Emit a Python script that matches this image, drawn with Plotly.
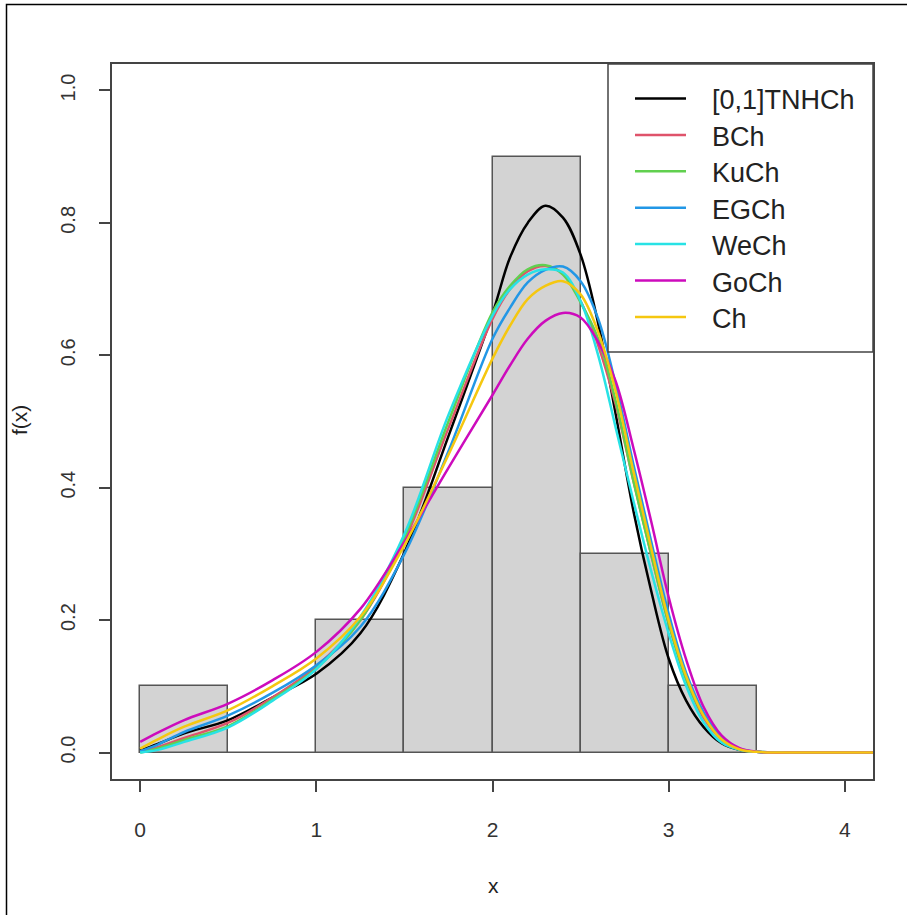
import plotly.graph_objects as go

# ---------------- data ----------------
bin_centers = [0.25, 0.75, 1.25, 1.75, 2.25, 2.75, 3.25]
bin_density = [0.1, 0.0, 0.2, 0.4, 0.9, 0.3, 0.1]
bin_width = 0.5

x_grid = [0, 0.1, 0.25, 0.5, 0.75, 1.0, 1.25, 1.5, 1.75, 2.0, 2.1, 2.2, 2.3, 2.4,
          2.5, 2.6, 2.7, 2.8, 2.9, 3.0, 3.1, 3.2, 3.3, 3.4, 3.5, 3.75, 4.0, 4.2]

f_TNHCh = [0.003, 0.013, 0.029, 0.049, 0.083, 0.119, 0.180, 0.302, 0.478, 0.663, 0.748, 0.800, 0.826, 0.808,
           0.752, 0.648, 0.510, 0.365, 0.245, 0.142, 0.078, 0.038, 0.014, 0.004, 0.001, 0.0, 0.0, 0.0]
f_BCh = [0.001, 0.008, 0.022, 0.045, 0.083, 0.130, 0.200, 0.320, 0.490, 0.655, 0.700, 0.727, 0.735, 0.723,
         0.682, 0.615, 0.525, 0.410, 0.300, 0.195, 0.110, 0.052, 0.020, 0.005, 0.001, 0.0, 0.0, 0.0]
f_KuCh = [0.0, 0.006, 0.019, 0.040, 0.080, 0.127, 0.200, 0.325, 0.500, 0.665, 0.705, 0.730, 0.736, 0.722,
          0.680, 0.625, 0.530, 0.410, 0.300, 0.195, 0.110, 0.055, 0.020, 0.005, 0.001, 0.0, 0.0, 0.0]
f_EGCh = [0.002, 0.012, 0.031, 0.056, 0.090, 0.132, 0.190, 0.300, 0.455, 0.625, 0.672, 0.710, 0.729, 0.734,
          0.712, 0.655, 0.555, 0.435, 0.320, 0.210, 0.120, 0.060, 0.022, 0.006, 0.001, 0.0, 0.0, 0.0]
f_WeCh = [0.0, 0.004, 0.016, 0.038, 0.078, 0.126, 0.205, 0.330, 0.510, 0.660, 0.700, 0.722, 0.730, 0.725,
          0.682, 0.600, 0.490, 0.380, 0.275, 0.180, 0.100, 0.045, 0.015, 0.004, 0.001, 0.0, 0.0, 0.0]
f_GoCh = [0.016, 0.030, 0.049, 0.074, 0.109, 0.152, 0.217, 0.318, 0.430, 0.540, 0.585, 0.625, 0.652, 0.664,
          0.657, 0.620, 0.560, 0.460, 0.350, 0.235, 0.140, 0.068, 0.026, 0.007, 0.001, 0.0, 0.0, 0.0]
f_Ch = [0.006, 0.020, 0.039, 0.064, 0.100, 0.142, 0.205, 0.313, 0.450, 0.595, 0.645, 0.685, 0.705, 0.712,
        0.692, 0.635, 0.545, 0.425, 0.310, 0.200, 0.115, 0.055, 0.020, 0.005, 0.001, 0.0, 0.0, 0.0]

series_names = ["[0,1]TNHCh", "BCh", "KuCh", "EGCh", "WeCh", "GoCh", "Ch"]
series_values = [f_TNHCh, f_BCh, f_KuCh, f_EGCh, f_WeCh, f_GoCh, f_Ch]
series_colors = ["#000000", "#DF536B", "#61D04F", "#2297E6", "#28E2E5", "#CD0BBC", "#F5C710"]

x_ticks = [0, 1, 2, 3, 4]
y_ticks = [0.0, 0.2, 0.4, 0.6, 0.8, 1.0]
y_tick_labels = ["0.0", "0.2", "0.4", "0.6", "0.8", "1.0"]

# ---------------- layout geometry ----------------
W, H = 907, 915
ML, MR, MT, MB = 112, 34, 64, 136
PW, PH = W - ML - MR, H - MT - MB


def px_x(px):
    return (px - ML) / PW


def px_y(py):
    return (H - MB - py) / PH


FONT = "Liberation Sans, Arial, sans-serif"

fig = go.Figure()

fig.add_trace(go.Bar(
    x=bin_centers, y=bin_density, width=bin_width,
    marker=dict(color="#D3D3D3", line=dict(color="#555555", width=1.5)),
    showlegend=False, hoverinfo="x+y",
))

for name, vals, col in zip(series_names, series_values, series_colors):
    fig.add_trace(go.Scatter(
        x=x_grid, y=vals, mode="lines", name=name,
        line=dict(color=col, width=2.5, shape="spline", smoothing=1.0),
        showlegend=False,
    ))

shapes = []
annotations = []

# outer image frame (left and top edges visible)
shapes.append(dict(type="rect", xref="paper", yref="paper",
                   x0=px_x(6.5), x1=px_x(920), y0=px_y(930), y1=px_y(4.5),
                   line=dict(color="#000000", width=1.5), layer="below"))

# legend box
shapes.append(dict(type="rect", xref="paper", yref="paper",
                   x0=px_x(608), x1=1.0, y0=px_y(352), y1=1.0,
                   line=dict(color="#444444", width=1.5),
                   fillcolor="white", layer="above"))

row_y0, row_dy = 98.5, 36.4
for i, (name, col) in enumerate(zip(series_names, series_colors)):
    yy = row_y0 + i * row_dy
    shapes.append(dict(type="line", xref="paper", yref="paper",
                       x0=px_x(635), x1=px_x(686), y0=px_y(yy), y1=px_y(yy),
                       line=dict(color=col, width=2.5), layer="above"))
    annotations.append(dict(xref="paper", yref="paper", x=px_x(710), y=px_y(yy + 2),
                            xanchor="left", yanchor="middle", showarrow=False,
                            text=name, font=dict(family=FONT, size=27, color="#222222")))

# axis titles
annotations.append(dict(xref="paper", yref="paper", x=px_x(493), y=px_y(885),
                        xanchor="center", yanchor="middle", showarrow=False,
                        text="x", font=dict(family=FONT, size=21, color="#222222")))
annotations.append(dict(xref="paper", yref="paper", x=px_x(19), y=px_y(420),
                        xanchor="center", yanchor="middle", showarrow=False, textangle=-90,
                        text="f(x)", font=dict(family=FONT, size=21, color="#222222")))

fig.update_layout(
    width=W, height=H,
    margin=dict(l=ML, r=MR, t=MT, b=MB, pad=0),
    paper_bgcolor="white", plot_bgcolor="white",
    bargap=0, showlegend=False,
    shapes=shapes, annotations=annotations,
    font=dict(family=FONT, color="#333333"),
)

fig.update_xaxes(
    range=[-0.16, 4.16], tickvals=x_ticks, ticktext=[str(t) for t in x_ticks],
    ticks="outside", ticklen=11, tickwidth=1.5, tickcolor="#444444",
    showline=True, linecolor="#444444", linewidth=1.5, mirror=True,
    showgrid=False, zeroline=False,
    tickfont=dict(family=FONT, size=21, color="#333333"),
    ticklabelstandoff=20,
)
fig.update_yaxes(
    range=[-0.04, 1.04], tickvals=y_ticks, ticktext=y_tick_labels,
    ticks="outside", ticklen=11, tickwidth=1.5, tickcolor="#444444",
    showline=True, linecolor="#444444", linewidth=1.5, mirror=True,
    showgrid=False, zeroline=False, tickangle=-90,
    tickfont=dict(family=FONT, size=20, color="#333333"),
    ticklabelstandoff=16,
)

fig.write_html(
    "out.html",
    config={"displayModeBar": False},
    post_script="document.body.style.margin='0px';document.body.style.overflow='hidden';",
)
